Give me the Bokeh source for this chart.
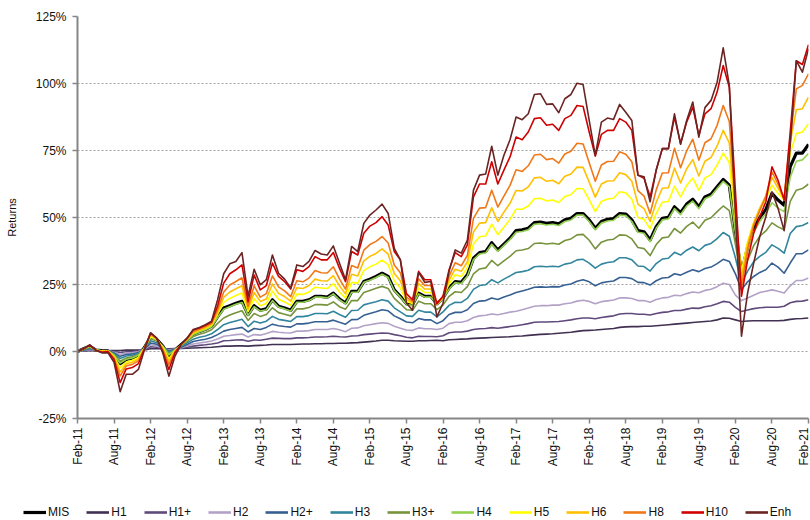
import math
from bokeh.plotting import figure
from bokeh.models import FixedTicker, Range1d
from bokeh.embed import file_html
from bokeh.resources import INLINE

months = list(range(121))  # Feb-11 .. Feb-21, monthly
x_ticks = list(range(0, 121, 6))
x_tick_labels = ["Feb-11", "Aug-11", "Feb-12", "Aug-12", "Feb-13", "Aug-13", "Feb-14",
                 "Aug-14", "Feb-15", "Aug-15", "Feb-16", "Aug-16", "Feb-17", "Aug-17",
                 "Feb-18", "Aug-18", "Feb-19", "Aug-19", "Feb-20", "Aug-20", "Feb-21"]
y_ticks = [-25, 0, 25, 50, 75, 100, 125]
y_tick_labels = ["-25%", "0%", "25%", "50%", "75%", "100%", "125%"]

MIS = [0, 1.0, 2.0, 0.5, 0.3, 0.2, -1.5, -4.5, -3.0, -2.5,
       -1.5, 1.5, 5.5, 4.5, 2.0, -1.5, 0.5, 2.5, 4.5, 6.5,
       7.5, 8.3, 9.5, 13.0, 16.2, 17.1, 18.0, 18.7, 13.8, 17.1,
       15.4, 15.9, 19.3, 16.9, 16.2, 15.4, 18.7, 18.7, 19.3, 20.6,
       20.6, 20.3, 21.8, 19.6, 18.1, 22.4, 22.4, 26.1, 27.0, 28.0,
       29.2, 28.0, 23.0, 20.6, 17.8, 17.5, 21.8, 20.6, 20.6, 17.8,
       20.0, 23.7, 26.1, 25.8, 28.6, 34.8, 36.9, 37.3, 40.6, 37.9,
       40.1, 42.3, 45.1, 45.4, 46.0, 48.1, 48.3, 47.8, 48.1, 47.6,
       49.1, 49.7, 51.5, 51.5, 49.1, 46.0, 48.5, 49.3, 49.6, 51.5,
       51.3, 49.1, 45.1, 44.7, 41.6, 46.6, 49.7, 50.1, 54.0, 51.8,
       55.0, 56.8, 54.0, 57.7, 58.7, 61.5, 64.2, 62.1, 45.0, 29.0,
       39.0, 46.0, 50.0, 53.0, 59.0, 56.5, 54.6, 69.0, 74.0, 74.0, 77.3]

H1 = [0, 0.2, 0.3, 0.3, 0.3, 0.4, 0.4, 0.4, 0.5, 0.5,
      0.5, 0.6, 1.0, 1.0, 1.0, 1.0, 1.1, 1.1, 1.2, 1.3,
      1.4, 1.5, 1.6, 1.8, 2.0, 2.0, 2.1, 2.1, 2.0, 2.2,
      2.3, 2.4, 2.6, 2.6, 2.6, 2.6, 2.7, 2.8, 2.8, 2.9,
      2.9, 3.0, 3.0, 3.1, 3.1, 3.2, 3.3, 3.5, 3.7, 3.9,
      4.2, 4.2, 4.0, 3.9, 3.8, 3.8, 4.0, 4.0, 4.1, 4.2,
      4.0, 4.4, 4.5, 4.6, 4.7, 4.9, 5.0, 5.1, 5.2, 5.3,
      5.4, 5.5, 5.7, 5.8, 6.0, 6.2, 6.4, 6.5, 6.6, 6.8,
      7.0, 7.2, 7.5, 7.8, 7.9, 8.0, 8.2, 8.4, 8.6, 9.0,
      9.2, 9.3, 9.3, 9.4, 9.4, 9.6, 9.8, 10.0, 10.2, 10.4,
      10.6, 10.8, 11.0, 11.2, 11.4, 11.8, 12.5, 12.4, 11.8, 11.2,
      11.4, 11.5, 11.5, 11.5, 11.5, 11.5, 11.6, 12.0, 12.2, 12.3, 12.5]

H1p = [0, 0.3, 0.6, 0.3, 0.3, 0.3, 0.0, -0.4, -0.1, 0.0,
       0.2, 0.6, 1.8, 1.6, 1.1, 0.8, 1.0, 1.2, 1.6, 2.0,
       2.3, 2.5, 2.8, 3.2, 4.0, 4.1, 4.3, 4.4, 3.8, 4.3,
       4.2, 4.6, 5.0, 4.9, 4.8, 4.8, 5.1, 5.1, 5.2, 5.4,
       5.4, 5.5, 5.7, 5.5, 5.4, 5.8, 5.9, 6.3, 6.5, 6.7,
       6.9, 6.8, 6.3, 5.9, 5.3, 5.1, 5.7, 5.6, 5.6, 5.5,
       5.9, 7.0, 7.3, 7.3, 7.6, 8.2, 8.5, 8.6, 8.9, 8.7,
       9.0, 9.3, 9.6, 10.0, 10.4, 10.9, 11.0, 11.0, 11.1, 11.2,
       11.5, 11.8, 12.2, 12.5, 12.5, 12.2, 12.7, 13.0, 13.3, 14.0,
       14.2, 14.2, 13.9, 13.9, 13.6, 14.2, 14.6, 14.8, 15.3, 15.3,
       15.8, 16.2, 16.1, 16.7, 17.1, 17.8, 18.7, 18.4, 16.5, 14.9,
       15.5, 16.0, 16.3, 16.5, 16.5, 16.5, 16.9, 18.2, 18.7, 18.8, 19.3]

H2 = [0, 0.4, 0.8, 0.4, 0.3, 0.3, -0.3, -1.0, -0.6, -0.4,
      -0.1, 0.8, 2.5, 2.1, 1.3, 0.5, 0.9, 1.4, 2.1, 2.8,
      3.2, 3.5, 3.9, 4.7, 5.7, 6.0, 6.3, 6.5, 5.4, 6.3,
      6.1, 6.7, 7.5, 7.2, 7.0, 6.9, 7.6, 7.6, 7.8, 8.2,
      8.2, 8.2, 8.6, 8.1, 7.4, 8.7, 8.8, 9.6, 10.0, 10.4,
      10.7, 10.5, 9.4, 8.7, 8.0, 7.9, 8.8, 8.5, 8.5, 8.2,
      8.7, 10.4, 10.9, 10.9, 11.5, 12.7, 13.3, 13.5, 14.0, 13.7,
      14.2, 14.7, 15.0, 15.6, 16.2, 16.9, 17.1, 17.1, 17.3, 17.3,
      17.8, 18.1, 18.8, 19.1, 18.7, 17.8, 18.6, 18.9, 19.2, 20.0,
      20.0, 19.8, 19.0, 19.0, 18.4, 19.4, 20.0, 20.2, 21.0, 20.8,
      21.6, 22.2, 21.9, 22.8, 23.2, 24.2, 25.5, 25.0, 21.0, 19.0,
      20.0, 21.0, 22.0, 22.5, 23.0, 22.5, 21.8, 24.5, 26.5, 26.5, 27.4]

H2p = [0, 0.5, 1.1, 0.4, 0.3, 0.3, -0.5, -1.8, -1.1, -0.9,
       -0.4, 0.9, 3.2, 2.7, 1.5, 0.2, 0.8, 1.6, 2.6, 3.7,
       4.2, 4.6, 5.2, 6.3, 7.6, 8.2, 8.6, 9.0, 7.3, 8.6,
       8.2, 9.0, 10.2, 9.6, 9.3, 9.1, 10.3, 10.3, 10.6, 11.1,
       11.1, 11.1, 11.7, 10.9, 10.2, 11.9, 12.0, 13.5, 14.2, 14.8,
       15.6, 15.2, 13.3, 12.2, 11.0, 10.7, 12.3, 11.8, 11.8, 10.4,
       11.5, 13.8, 14.6, 14.6, 15.6, 17.9, 18.8, 19.0, 20.0, 19.4,
       20.3, 21.1, 22.0, 22.6, 23.2, 24.0, 24.1, 24.0, 24.2, 24.1,
       24.8, 25.2, 26.2, 26.8, 26.0, 24.5, 25.6, 26.0, 26.3, 27.6,
       27.6, 27.2, 25.8, 25.7, 24.8, 26.4, 27.4, 27.6, 29.0, 28.5,
       29.6, 30.5, 29.8, 31.0, 31.5, 32.8, 34.4, 33.6, 29.0, 23.0,
       26.0, 28.0, 29.5, 30.5, 33.0, 31.5, 29.2, 33.0, 36.5, 36.5, 37.9]

H3 = [0, 0.6, 1.4, 0.5, 0.3, 0.3, -0.8, -2.6, -1.7, -1.4,
      -0.7, 1.1, 4.0, 3.3, 1.7, -0.2, 0.7, 1.9, 3.2, 4.6,
      5.3, 5.8, 6.6, 8.2, 10.0, 10.8, 11.4, 12.0, 9.3, 11.3,
      10.6, 11.3, 13.1, 12.0, 11.6, 11.2, 13.0, 13.0, 13.4, 14.2,
      14.2, 14.1, 15.0, 13.8, 12.8, 15.3, 15.4, 17.4, 18.0, 18.6,
      19.3, 18.8, 16.3, 14.8, 13.3, 13.1, 15.4, 14.7, 14.7, 12.9,
      14.8, 17.2, 18.4, 18.3, 19.8, 23.2, 24.6, 24.9, 26.8, 25.6,
      27.0, 28.2, 29.5, 29.8, 30.3, 31.6, 31.8, 31.6, 31.8, 31.6,
      32.6, 33.0, 34.2, 34.4, 33.0, 31.1, 32.6, 33.2, 33.5, 35.0,
      35.0, 34.2, 31.9, 31.7, 30.0, 32.8, 34.5, 34.8, 37.0, 36.0,
      37.8, 39.0, 37.6, 39.6, 40.3, 42.1, 44.4, 43.0, 35.0, 25.5,
      30.0, 33.5, 35.5, 37.0, 39.8, 38.5, 36.7, 44.0, 46.6, 47.0, 48.1]

H3p = [0, 0.8, 1.7, 0.5, 0.3, 0.2, -1.2, -3.6, -2.4, -2.0,
       -1.1, 1.3, 4.8, 3.9, 1.9, -0.8, 0.6, 2.2, 3.9, 5.6,
       6.4, 7.1, 8.1, 10.5, 12.5, 13.6, 14.5, 15.2, 11.6, 14.2,
       13.1, 13.8, 16.3, 14.5, 13.9, 13.3, 15.9, 15.9, 16.4, 17.5,
       17.5, 17.3, 18.5, 16.7, 15.8, 19.0, 19.0, 22.0, 22.8, 23.6,
       24.3, 23.5, 19.8, 17.8, 15.6, 15.4, 18.8, 17.8, 17.8, 15.6,
       17.3, 20.6, 22.3, 22.0, 24.2, 29.0, 30.8, 31.2, 34.0, 32.0,
       33.8, 35.5, 37.6, 37.9, 38.4, 40.3, 40.5, 40.1, 40.4, 40.0,
       41.4, 42.0, 43.5, 43.7, 41.5, 38.3, 40.8, 41.6, 41.9, 43.5,
       43.4, 42.0, 38.8, 38.4, 35.8, 39.9, 42.4, 42.7, 45.9, 44.2,
       46.7, 48.3, 46.0, 49.0, 49.9, 52.2, 54.3, 52.6, 40.0, 27.5,
       34.0, 39.5, 43.0, 45.0, 48.0, 46.5, 45.4, 56.0, 60.2, 60.8, 62.5]

H4 = [0, 0.9, 1.9, 0.5, 0.3, 0.2, -1.4, -4.3, -2.9, -2.4,
      -1.4, 1.4, 5.3, 4.3, 2.0, -1.3, 0.5, 2.4, 4.3, 6.3,
      7.3, 8.1, 9.2, 12.7, 15.8, 16.7, 17.6, 18.3, 13.5, 16.7,
      15.1, 15.6, 19.0, 16.6, 15.9, 15.1, 18.4, 18.4, 19.0, 20.3,
      20.3, 20.0, 21.5, 19.3, 17.8, 22.1, 22.1, 25.8, 26.6, 27.6,
      28.8, 27.6, 22.7, 20.3, 17.5, 17.2, 21.5, 20.3, 20.3, 17.5,
      19.7, 23.3, 25.7, 25.4, 28.2, 34.3, 36.4, 36.8, 40.0, 37.4,
      39.6, 41.8, 44.5, 44.8, 45.4, 47.5, 47.7, 47.2, 47.5, 47.0,
      48.5, 49.1, 50.9, 50.9, 48.5, 45.4, 47.9, 48.7, 49.0, 50.9,
      50.7, 48.5, 44.5, 44.1, 41.0, 46.0, 49.1, 49.5, 53.3, 51.1,
      54.3, 56.1, 53.3, 57.0, 58.0, 60.8, 63.5, 61.4, 44.5, 28.5,
      38.0, 44.5, 48.5, 51.5, 55.5, 53.5, 52.2, 65.0, 71.0, 71.5, 73.9]

H5 = [0, 1.0, 2.1, 0.5, 0.2, 0.2, -1.8, -6.1, -3.9, -3.3,
      -2.2, 1.4, 5.8, 4.6, 1.5, -2.7, 0.3, 2.5, 4.6, 6.8,
      7.8, 8.6, 9.8, 13.9, 18.3, 19.8, 20.9, 21.8, 14.9, 19.7,
      17.1, 17.9, 22.5, 19.5, 18.5, 17.2, 21.4, 21.3, 22.2, 24.0,
      23.7, 23.5, 25.3, 22.2, 19.9, 25.8, 25.5, 30.2, 31.6, 32.6,
      34.1, 32.4, 26.3, 23.7, 18.7, 17.9, 23.7, 22.0, 22.0, 17.8,
      20.1, 25.3, 28.6, 28.0, 31.2, 40.1, 42.8, 43.1, 47.5, 43.6,
      46.4, 49.3, 53.1, 53.1, 54.3, 57.0, 57.2, 56.2, 56.5, 55.6,
      57.8, 58.5, 60.8, 60.7, 56.6, 52.2, 56.0, 56.9, 57.2, 59.6,
      59.2, 56.8, 50.0, 49.3, 45.8, 51.5, 55.7, 56.0, 61.7, 57.7,
      62.0, 64.7, 60.1, 64.8, 66.0, 69.6, 74.0, 70.5, 48.5, 30.0,
      41.0, 48.0, 53.0, 57.0, 62.0, 59.0, 56.5, 74.0, 81.3, 81.9, 85.0]

H6 = [0, 1.0, 2.2, 0.5, 0.0, 0.1, -2.1, -7.6, -4.6, -4.0,
      -2.8, 1.3, 6.1, 4.7, 1.1, -3.7, 0.1, 2.5, 4.7, 7.1,
      8.1, 8.9, 10.1, 14.7, 20.2, 22.2, 23.4, 24.5, 15.8, 22.0,
      18.7, 19.6, 25.2, 21.7, 20.5, 18.8, 23.8, 23.5, 24.6, 27.0,
      26.4, 26.3, 28.3, 24.5, 21.5, 28.8, 28.2, 33.8, 35.5, 36.6,
      38.3, 36.3, 29.1, 26.4, 19.4, 18.3, 25.3, 23.3, 23.3, 17.8,
      20.3, 26.6, 30.7, 29.9, 33.4, 44.6, 47.9, 48.1, 53.6, 48.5,
      52.0, 55.3, 60.1, 59.9, 61.4, 64.8, 65.0, 63.5, 63.9, 62.6,
      65.4, 66.2, 68.8, 68.7, 63.2, 57.6, 62.5, 63.6, 63.7, 66.7,
      66.0, 63.5, 55.0, 53.3, 48.5, 55.7, 60.9, 61.1, 68.4, 62.9,
      68.2, 71.6, 65.5, 71.0, 72.4, 76.7, 82.5, 77.8, 51.5, 27.0,
      40.0, 48.0, 53.5, 58.0, 65.0, 61.0, 57.0, 78.0, 90.2, 90.6, 94.9]

H8 = [0, 1.0, 2.3, 0.5, -0.1, 0.1, -2.5, -9.1, -5.4, -4.8,
      -3.5, 1.2, 6.5, 4.8, 0.7, -4.9, -0.2, 2.6, 4.8, 7.5,
      8.3, 9.3, 10.5, 15.6, 22.2, 24.8, 26.1, 27.5, 16.9, 24.5,
      20.3, 21.6, 28.2, 24.1, 22.6, 20.5, 26.4, 26.0, 27.4, 30.2,
      29.4, 29.3, 31.6, 27.1, 23.3, 32.1, 31.2, 37.8, 39.9, 41.1,
      42.9, 40.5, 32.3, 29.4, 20.3, 18.7, 27.1, 24.6, 24.6, 17.8,
      20.4, 28.1, 33.1, 32.0, 35.9, 49.7, 53.5, 53.7, 60.2, 53.9,
      58.0, 62.0, 67.8, 67.2, 69.3, 73.3, 73.6, 71.6, 72.0, 70.3,
      73.7, 74.7, 77.7, 77.4, 70.4, 63.5, 69.6, 70.9, 71.0, 74.5,
      73.6, 70.8, 60.0, 58.0, 51.5, 60.3, 66.6, 66.7, 75.8, 68.6,
      74.9, 79.2, 71.4, 77.9, 79.4, 84.4, 91.8, 85.8, 54.8, 24.0,
      38.0, 47.0, 52.5, 58.0, 67.0, 62.5, 57.0, 80.0, 98.0, 99.3, 103.6]

H10 = [0, 1.0, 2.4, 0.5, -0.3, 0.0, -3.0, -11.6, -6.5, -6.0,
       -4.5, 1.0, 7.0, 5.0, 0.0, -6.7, -0.5, 2.6, 5.0, 8.0,
       8.8, 9.8, 11.0, 17.0, 25.5, 29.0, 30.5, 32.3, 18.5, 28.5,
       23.0, 24.6, 33.0, 28.0, 26.1, 23.3, 30.5, 29.9, 31.7, 35.4,
       34.2, 34.2, 36.9, 31.1, 26.1, 37.3, 36.0, 44.1, 46.8, 48.1,
       50.3, 47.2, 37.3, 34.2, 21.6, 19.3, 29.9, 26.8, 26.8, 17.8,
       20.6, 30.5, 36.9, 35.4, 39.8, 57.7, 62.5, 62.5, 70.8, 62.5,
       67.7, 72.6, 80.0, 79.0, 81.9, 86.9, 87.2, 84.4, 84.8, 82.5,
       86.9, 88.1, 91.8, 91.4, 81.9, 72.9, 81.0, 82.5, 82.5, 86.9,
       85.6, 82.5, 65.8, 64.6, 57.7, 67.7, 75.7, 75.7, 87.5, 77.6,
       85.6, 91.2, 80.7, 88.7, 90.6, 96.8, 106.7, 98.6, 60.0, 20.6,
       34.2, 44.1, 50.3, 55.9, 68.9, 63.9, 56.5, 82.0, 108.5, 107.1, 114.5]

Enh = [0, 1.0, 2.5, 0.5, -0.5, -0.5, -4.0, -15.0, -8.5, -8.5,
       -6.7, 0.7, 7.0, 5.0, -0.5, -9.2, -1.7, 2.6, 5.0, 8.2,
       9.0, 10.0, 11.3, 19.3, 29.0, 32.7, 33.6, 36.9, 20.6, 30.7,
       24.9, 26.8, 36.0, 29.2, 27.0, 23.7, 32.3, 31.7, 33.6, 37.7,
       36.4, 36.0, 39.4, 33.0, 26.8, 39.2, 37.3, 47.8, 50.9, 52.8,
       55.0, 51.5, 38.5, 34.2, 18.1, 15.4, 29.5, 25.8, 26.1, 12.9,
       18.0, 30.0, 37.9, 36.7, 41.6, 60.2, 65.8, 66.2, 76.6, 65.8,
       73.2, 79.0, 87.5, 86.5, 88.7, 95.9, 96.2, 92.2, 92.4, 89.1,
       94.3, 95.9, 100.1, 99.6, 86.2, 73.2, 85.6, 87.1, 86.6, 92.2,
       89.3, 86.2, 65.8, 65.2, 55.9, 67.7, 75.7, 75.7, 88.7, 77.3,
       86.2, 93.1, 80.0, 91.0, 93.7, 100.5, 113.3, 99.3, 52.0, 5.7,
       21.8, 33.0, 42.9, 50.3, 59.6, 53.4, 45.1, 77.0, 108.5, 104.2, 113.0]

series_names = ["MIS", "H1", "H1+", "H2", "H2+", "H3", "H3+", "H4", "H5", "H6", "H8", "H10", "Enh"]
series_values = [MIS, H1, H1p, H2, H2p, H3, H3p, H4, H5, H6, H8, H10, Enh]
series_colors = ["#000000", "#403152", "#604a7b", "#b3a2c7", "#376092", "#31859c",
                 "#77933c", "#92d050", "#ffff00", "#ffc000", "#f07818", "#d00000", "#6b2424"]
series_widths = [3.2, 1.6, 1.6, 1.6, 1.6, 1.6, 1.6, 1.6, 1.6, 1.6, 1.6, 1.6, 1.6]
legend_widths = [3.2, 2.6, 2.6, 2.6, 2.6, 2.6, 2.6, 2.6, 2.6, 2.6, 2.6, 2.6, 2.6]

FONT = "Liberation Sans"
W = 810
LEG_H = 22

p = figure(width=W, height=520 - LEG_H, output_backend="svg", toolbar_location=None,
           x_range=Range1d(0, 120), y_range=Range1d(-25, 125),
           min_border_left=77, min_border_right=2, min_border_top=16,
           min_border_bottom=520 - LEG_H - 418)
p.outline_line_color = None
p.background_fill_color = "white"
p.border_fill_color = "white"

for name, vals, col, w in zip(series_names, series_values, series_colors, series_widths):
    p.line(months, vals, line_color=col, line_width=w, line_join="round")

# axes
p.xaxis.ticker = FixedTicker(ticks=x_ticks)
p.xaxis.major_label_overrides = {t: l for t, l in zip(x_ticks, x_tick_labels)}
p.xaxis.major_label_orientation = math.pi / 2
p.yaxis.ticker = FixedTicker(ticks=y_ticks)
p.yaxis.major_label_overrides = {t: l for t, l in zip(y_ticks, y_tick_labels)}
for ax in (p.xaxis[0], p.yaxis[0]):
    ax.axis_line_color = "#868686"
    ax.axis_line_width = 2
    ax.major_tick_line_color = "#868686"
    ax.major_tick_line_width = 1.5
    ax.major_tick_out = 5
    ax.major_tick_in = 0
    ax.minor_tick_line_color = None
    ax.major_label_text_font = FONT
    ax.major_label_text_font_size = "12px"
    ax.major_label_text_color = "#111111"
p.xaxis.major_label_standoff = 4
p.yaxis.major_label_standoff = 6
p.yaxis.axis_label = "Returns"
p.yaxis.axis_label_text_font = FONT
p.yaxis.axis_label_text_font_size = "11px"
p.yaxis.axis_label_text_font_style = "normal"
p.yaxis.axis_label_text_color = "#111111"
p.yaxis.axis_label_standoff = 15

p.xgrid.visible = False
p.ygrid.grid_line_color = "#a0a0a0"
p.ygrid.grid_line_dash = "2 2"
p.ygrid.grid_line_width = 1.2

# legend strip below the chart (separate root so its frame spans the full width)
leg = figure(width=W, height=LEG_H, output_backend="svg", toolbar_location=None,
             x_axis_type=None, y_axis_type=None, min_border=0,
             x_range=Range1d(0, 1), y_range=Range1d(0, 1))
leg.outline_line_color = None
leg.xgrid.visible = False
leg.ygrid.visible = False
for name, col, w in zip(series_names, series_colors, legend_widths):
    leg.line([-10, -9], [-10, -9], line_color=col, line_width=w, legend_label=name)
lg = leg.legend[0]
lg.orientation = "horizontal"
lg.location = (23, 0)
lg.border_line_color = None
lg.background_fill_alpha = 0
lg.padding = 0
lg.margin = 0
lg.spacing = 17
lg.label_standoff = 2
lg.label_width = 0
lg.glyph_width = 23
lg.glyph_height = 16
lg.label_height = 16
lg.label_text_font = FONT
lg.label_text_font_size = "12px"
lg.label_text_color = "#111111"

open("out.html", "w").write(file_html([p, leg], INLINE))
